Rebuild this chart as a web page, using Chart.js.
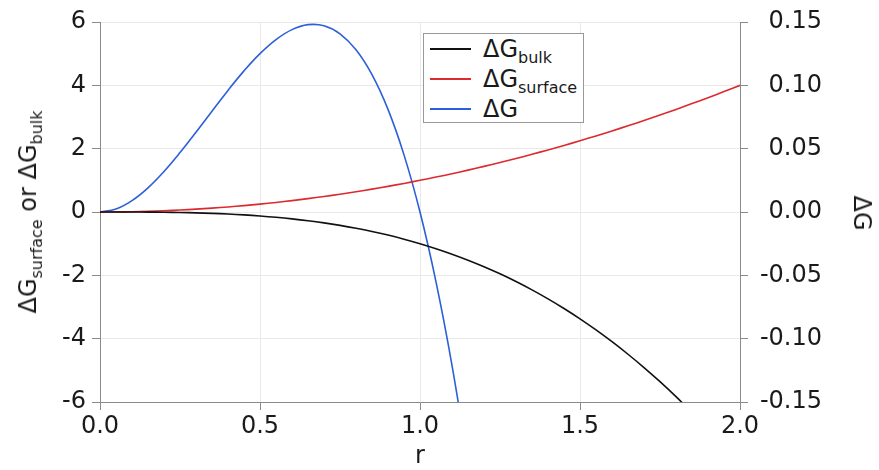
<!DOCTYPE html>
<html>
<head>
<meta charset="utf-8">
<script src="https://cdn.jsdelivr.net/npm/chart.js@4.4.1/dist/chart.umd.min.js"></script>
<style>
    body { margin: 0; background: #fff; font-family: "DejaVu Sans", sans-serif; color: #1a1a1a; }
    #wrap { position: relative; width: 879px; height: 470px; }
    #wrap canvas { position: absolute; left: 0; top: 0; }
    .ttl { position: absolute; font-size: 24px; white-space: nowrap; line-height: 1; }
    sub { font-size: 16px; vertical-align: -6px; line-height: 0; }
    #legend {
        position: absolute; left: 423px; top: 33px; width: 161px; height: 90px;
        border: 1px solid #999; background: #fff; box-sizing: border-box;
    }
    .row { position: absolute; left: 0; height: 28px; display: flex; align-items: center; font-size: 24px; }
    .swatch { display: inline-block; width: 41px; height: 2px; margin-left: 6px; margin-right: 12px; }
</style>
</head>
<body>
<div id="wrap">
    <canvas id="chart" width="879" height="470"></canvas>
    <div class="ttl" style="left:28px; top:212px; transform: translate(-50%, -50%) rotate(-90deg);">ΔG<sub>surface</sub> or ΔG<sub>bulk</sub></div>
    <div class="ttl" style="left:862px; top:213px; transform: translate(-50%, -50%) rotate(90deg);">ΔG</div>
    <div class="ttl" style="left:420px; top:455px; transform: translate(-50%, -50%);">r</div>
    <div id="legend">
        <div class="row" style="top:1px;"><span class="swatch" style="background:#111;"></span><span>ΔG<sub>bulk</sub></span></div>
        <div class="row" style="top:31px;"><span class="swatch" style="background:#dc2a2e;"></span><span>ΔG<sub>surface</sub></span></div>
        <div class="row" style="top:61px;"><span class="swatch" style="background:#2c5fd8;"></span><span>ΔG</span></div>
    </div>
</div>
<script>
// === DATA ===
const R = [0, 0.05, 0.1, 0.15, 0.2, 0.25, 0.3, 0.35, 0.4, 0.45, 0.5, 0.55, 0.6, 0.65, 0.7, 0.75,
    0.8, 0.85, 0.9, 0.95, 1.0, 1.05, 1.1, 1.15, 1.2, 1.25, 1.3, 1.35, 1.4, 1.45, 1.5, 1.55,
    1.6, 1.65, 1.7, 1.75, 1.8, 1.85, 1.9, 1.95, 2.0];

// left axis
const BULK = [0, -0.0001, -0.001, -0.0034, -0.008, -0.0156, -0.027, -0.0429, -0.064, -0.0911,
    -0.125, -0.1664, -0.216, -0.2746, -0.343, -0.4219, -0.512, -0.6141, -0.729, -0.8574,
    -1.0, -1.1576, -1.331, -1.5209, -1.728, -1.9531, -2.197, -2.4604, -2.744, -3.0486,
    -3.375, -3.7239, -4.096, -4.4921, -4.913, -5.3594, -5.832, -6.3316];
const SURFACE = [0, 0.0025, 0.01, 0.0225, 0.04, 0.0625, 0.09, 0.1225, 0.16, 0.2025,
    0.25, 0.3025, 0.36, 0.4225, 0.49, 0.5625, 0.64, 0.7225, 0.81, 0.9025,
    1.0, 1.1025, 1.21, 1.3225, 1.44, 1.5625, 1.69, 1.8225, 1.96, 2.1025,
    2.25, 2.4025, 2.56, 2.7225, 2.89, 3.0625, 3.24, 3.4225, 3.61, 3.8025, 4.0];
// right axis
const DELTA_G = [0, 0.0024, 0.009, 0.0191, 0.032, 0.0469, 0.063, 0.0796, 0.096, 0.1114,
    0.125, 0.1361, 0.144, 0.1479, 0.147, 0.1406, 0.128, 0.1084, 0.081, 0.0451,
    0, -0.0551, -0.121, -0.1984];

const X_TICKS = [0, 0.5, 1.0, 1.5, 2.0];
const LEFT_TICKS = [-6, -4, -2, 0, 2, 4, 6];
const RIGHT_TICKS = [-0.15, -0.10, -0.05, 0, 0.05, 0.10, 0.15];

const COLORS = {
    bulk: "#111111",
    surface: "#dc2a2e",
    delta: "#2c5fd8",
    grid: "#e9e9e9",
    axis: "#8a8a8a",
    text: "#1a1a1a",
};

const toPoints = (ys) => ys.map((y, i) => ({ x: R[i], y: y }));
const FONT = { family: "'DejaVu Sans', sans-serif", size: 24 };

new Chart(document.getElementById("chart"), {
    type: "line",
    data: {
        datasets: [
            { label: "ΔG bulk", data: toPoints(BULK), borderColor: COLORS.bulk, yAxisID: "y" },
            { label: "ΔG surface", data: toPoints(SURFACE), borderColor: COLORS.surface, yAxisID: "y" },
            { label: "ΔG", data: toPoints(DELTA_G), borderColor: COLORS.delta, yAxisID: "y2" },
        ],
    },
    options: {
        responsive: false,
        animation: false,
        events: [],
        // right padding keeps the right tick labels ending near x=822
        layout: { padding: { top: 22, right: 57 } },
        elements: {
            point: { radius: 0 },
            line: { borderWidth: 1.6, tension: 0.4, fill: false },
        },
        plugins: { legend: { display: false }, tooltip: { enabled: false } },
        scales: {
            x: {
                type: "linear",
                min: 0,
                max: 2,
                afterBuildTicks: (s) => { s.ticks = X_TICKS.map((v) => ({ value: v })); },
                afterFit: (s) => { s.height = 68; },
                grid: { color: COLORS.grid, tickColor: COLORS.axis, tickLength: 8 },
                border: { color: COLORS.axis },
                ticks: { font: FONT, color: COLORS.text, padding: 2, maxRotation: 0, callback: (v) => v.toFixed(1) },
            },
            y: {
                position: "left",
                min: -6,
                max: 6,
                afterBuildTicks: (s) => { s.ticks = LEFT_TICKS.map((v) => ({ value: v })); },
                afterFit: (s) => { s.width = 100; },
                grid: { color: COLORS.grid, tickColor: COLORS.axis, tickLength: 8 },
                border: { color: COLORS.axis },
                ticks: { font: FONT, color: COLORS.text, padding: 6, callback: (v) => String(v) },
            },
            y2: {
                position: "right",
                min: -0.15,
                max: 0.15,
                afterBuildTicks: (s) => { s.ticks = RIGHT_TICKS.map((v) => ({ value: v })); },
                afterFit: (s) => { s.width = 82; },
                grid: { drawOnChartArea: false, tickColor: COLORS.axis, tickLength: 8 },
                border: { color: COLORS.axis },
                ticks: { font: FONT, color: COLORS.text, padding: 4, crossAlign: "far", callback: (v) => v.toFixed(2) },
            },
        },
    },
});
</script>
</body>
</html>
